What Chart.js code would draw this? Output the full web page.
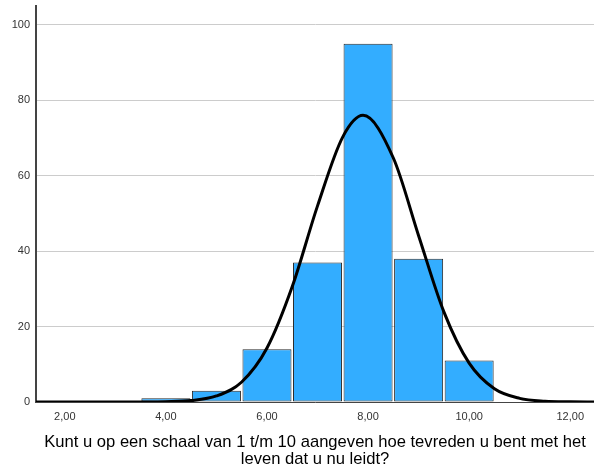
<!DOCTYPE html>
<html>
<head>
<meta charset="utf-8">
<script src="https://cdn.jsdelivr.net/npm/chart.js@4"></script>
<style>
  html, body { margin: 0; padding: 0; background: #fff; }
  #wrap { width: 594px; height: 466px; }
</style>
</head>
<body>
<div id="wrap"><canvas id="hist" width="594" height="466"></canvas></div>
<script>
// histogram bins (score) and counts
const binCenters = [4, 5, 6, 7, 8, 9, 10];
const binCounts = [1, 3, 14, 37, 95, 38, 11];

// normal curve
const curveX = [1.4, 2, 2.5, 3, 3.5, 4, 4.5, 5, 5.5, 6, 6.5, 7, 7.5, 7.9, 8.5, 9, 9.5, 10, 10.5, 11, 11.5, 12, 12.5];
const curveY = [0, 0, 0, 0, 0.01, 0.07, 0.37, 1.6, 5.3, 14.3, 30.6, 52, 70.3, 76, 64.7, 44.1, 23.9, 10.3, 3.5, 0.97, 0.21, 0.04, 0];

const xTicks = [2, 4, 6, 8, 10, 12];
const yTicks = [0, 20, 40, 60, 80, 100];
const xTitle = ['Kunt u op een schaal van 1 t/m 10 aangeven hoe tevreden u bent met het', 'leven dat u nu leidt?'];

const barData = binCenters.map((x, i) => ({ x: x, y: binCounts[i] }));
const lineData = curveX.map((x, i) => ({ x: x, y: curveY[i] }));

const fontFamily = "'Liberation Sans', Arial, sans-serif";

new Chart(document.getElementById('hist'), {
  type: 'bar',
  data: {
    datasets: [
      {
        type: 'line',
        data: lineData,
        borderColor: '#000',
        borderWidth: 3,
        pointRadius: 0,
        cubicInterpolationMode: 'monotone',
        fill: false,
        order: 0
      },
      {
        type: 'bar',
        data: barData,
        backgroundColor: '#33adff',
        borderColor: '#2b2b2b',
        borderWidth: 1,
        borderSkipped: false,
        categoryPercentage: 1,
        barPercentage: 0.97,
        order: 1
      }
    ]
  },
  options: {
    responsive: false,
    animation: false,
    layout: { padding: { top: 6, right: 0, left: 0, bottom: 0 } },
    plugins: {
      legend: { display: false },
      tooltip: { enabled: false }
    },
    scales: {
      x: {
        type: 'linear',
        min: 1.43,
        max: 12.47,
        offset: false,
        grid: { display: false, drawTicks: false },
        border: { display: true, color: '#444', width: 1 },
        afterBuildTicks: function (scale) {
          scale.ticks = xTicks.map(v => ({ value: v }));
        },
        afterFit: function (scale) {
          scale.height = 64;
          scale.paddingLeft = 0;
          scale.paddingRight = 0;
        },
        ticks: {
          padding: 8,
          color: '#333',
          font: { family: fontFamily, size: 11 },
          callback: function (value) {
            return value.toFixed(2).replace('.', ',');
          }
        },
        title: {
          display: true,
          text: xTitle,
          color: '#000',
          font: { family: fontFamily, size: 16.6, lineHeight: 1.02 },
          padding: { top: 14, bottom: -2 }
        }
      },
      y: {
        min: 0,
        max: 105,
        afterBuildTicks: function (scale) {
          scale.ticks = yTicks.map(v => ({ value: v }));
        },
        afterFit: function (scale) {
          scale.width = 36;
          scale.paddingTop = 0;
          scale.paddingBottom = 0;
        },
        grid: { color: '#cccccc', lineWidth: 1, drawTicks: false },
        border: { display: true, color: '#444', width: 2 },
        ticks: {
          padding: 6,
          color: '#333',
          font: { family: fontFamily, size: 11 }
        }
      }
    }
  }
});
</script>
</body>
</html>
